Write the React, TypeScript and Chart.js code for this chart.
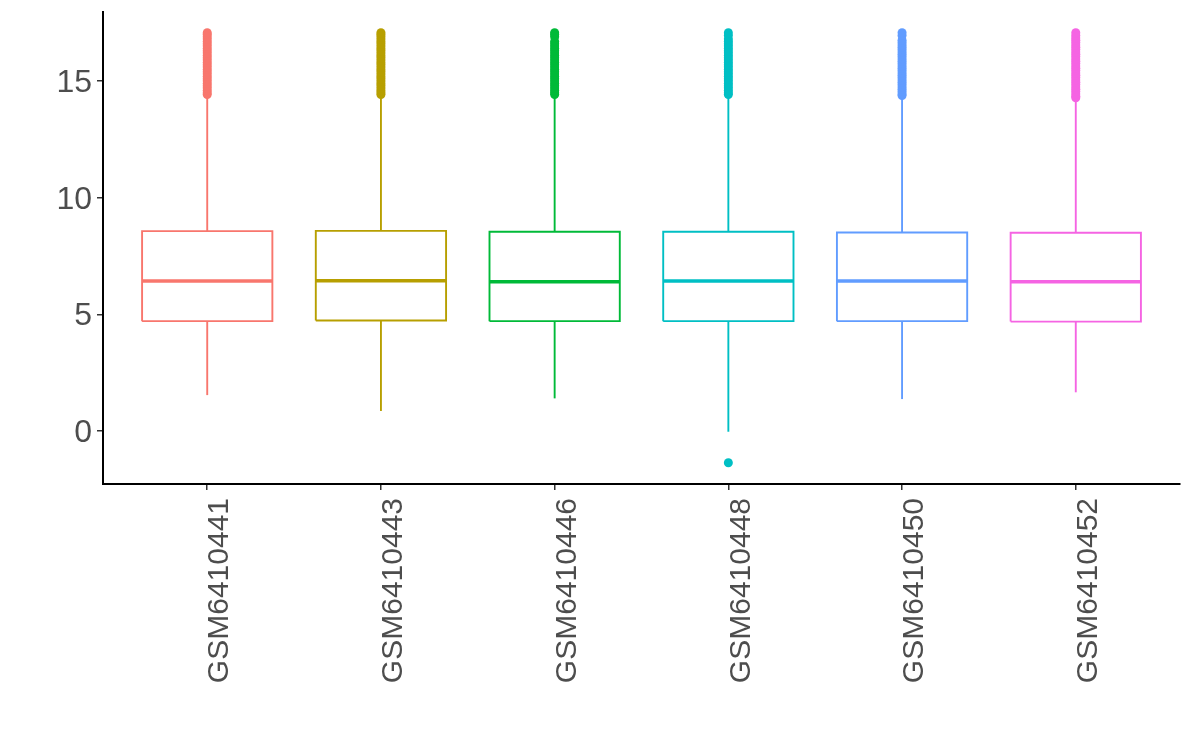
import React, { useEffect, useRef } from "react";
import { Chart, registerables } from "chart.js";

Chart.register(...registerables);

const categories = ["GSM6410441", "GSM6410443", "GSM6410446", "GSM6410448", "GSM6410450", "GSM6410452"];
const colors = ["#F8766D", "#B79F00", "#00BA38", "#00BFC4", "#619CFF", "#F564E3"];

const lowerWhisker = [1.54, 0.86, 1.40, -0.03, 1.37, 1.66];
const q1 = [4.71, 4.74, 4.71, 4.71, 4.71, 4.69];
const median = [6.43, 6.44, 6.40, 6.43, 6.43, 6.40];
const q3 = [8.57, 8.58, 8.54, 8.54, 8.51, 8.50];
const upperWhisker = [14.37, 14.37, 14.37, 14.37, 14.33, 14.23];

const outliers1 = [14.42, 14.5, 14.6, 14.7, 14.8, 14.9, 15.0, 15.1, 15.2, 15.3, 15.4, 15.5, 15.6, 15.7, 15.8, 15.9, 16.0, 16.1, 16.2, 16.3, 16.4, 16.5, 16.6, 16.7, 16.8, 16.9, 17.0, 17.07];
const outliers2 = [14.42, 14.5, 14.6, 14.7, 14.8, 14.9, 15.0, 15.1, 15.2, 15.3, 15.4, 15.5, 15.6, 15.7, 15.8, 15.9, 16.0, 16.1, 16.2, 16.3, 16.4, 16.5, 16.6, 16.7, 16.8, 16.9, 17.0, 17.07];
const outliers3 = [14.42, 14.5, 14.6, 14.7, 14.8, 14.9, 15.0, 15.1, 15.2, 15.3, 15.4, 15.5, 15.6, 15.7, 15.8, 15.9, 16.0, 16.1, 16.2, 16.3, 16.4, 16.5, 16.6, 16.7, 16.9, 17.0, 17.07];
const outliers4 = [-1.36, 14.42, 14.5, 14.6, 14.7, 14.8, 14.9, 15.0, 15.1, 15.2, 15.3, 15.4, 15.5, 15.6, 15.7, 15.8, 15.9, 16.0, 16.1, 16.2, 16.3, 16.4, 16.5, 16.6, 16.7, 16.8, 16.95, 17.07];
const outliers5 = [14.38, 14.45, 14.55, 14.65, 14.75, 14.85, 14.95, 15.05, 15.15, 15.25, 15.35, 15.45, 15.55, 15.65, 15.75, 15.85, 15.95, 16.05, 16.15, 16.25, 16.35, 16.45, 16.55, 16.65, 16.75, 16.95, 17.07];
const outliers6 = [14.28, 14.35, 14.45, 14.55, 14.65, 14.75, 14.85, 14.95, 15.05, 15.15, 15.25, 15.35, 15.45, 15.55, 15.65, 15.75, 15.85, 15.95, 16.05, 16.15, 16.25, 16.35, 16.45, 16.55, 16.65, 16.75, 16.85, 16.95, 17.07];
const outliers = [outliers1, outliers2, outliers3, outliers4, outliers5, outliers6];

const yTicks = [0, 5, 10, 15];

const BOX_HALF = 0.375;
const FONT = "'Liberation Sans', Arial, Helvetica, sans-serif";

export default function App() {
  const canvasRef = useRef<HTMLCanvasElement | null>(null);

  useEffect(() => {
    if (!canvasRef.current) return;
    const datasets: any[] = [];
    categories.forEach((_, i) => {
      const x = i + 1;
      const c = colors[i];
      datasets.push({
        type: "scatter",
        data: outliers[i].map((v) => ({ x, y: v })),
        backgroundColor: c,
        borderWidth: 0,
        pointRadius: 4.5,
        pointHoverRadius: 4.5,
        showLine: false,
      });
      const lineBase = {
        type: "line",
        borderColor: c,
        borderWidth: 1.9,
        pointRadius: 0,
        pointHoverRadius: 0,
        fill: false,
        tension: 0,
        borderJoinStyle: "miter",
        borderCapStyle: "butt",
      };
      datasets.push({ ...lineBase, data: [{ x, y: q3[i] }, { x, y: upperWhisker[i] }] });
      datasets.push({ ...lineBase, data: [{ x, y: lowerWhisker[i] }, { x, y: q1[i] }] });
      datasets.push({
        ...lineBase,
        data: [
          { x: x - BOX_HALF, y: q1[i] },
          { x: x - BOX_HALF, y: q3[i] },
          { x: x + BOX_HALF, y: q3[i] },
          { x: x + BOX_HALF, y: q1[i] },
          { x: x - BOX_HALF, y: q1[i] },
        ],
      });
      datasets.push({
        ...lineBase,
        borderWidth: 3.6,
        data: [
          { x: x - BOX_HALF, y: median[i] },
          { x: x + BOX_HALF, y: median[i] },
        ],
      });
    });

    const chart = new Chart(canvasRef.current, {
      type: "scatter",
      data: { datasets },
      options: {
        animation: false,
        responsive: true,
        maintainAspectRatio: false,
        layout: { padding: { top: 12, right: 12, left: 0, bottom: 0 } },
        plugins: { legend: { display: false }, tooltip: { enabled: false } },
        events: [],
        scales: {
          x: {
            type: "linear",
            min: 0.4,
            max: 6.6,
            afterBuildTicks: (scale: any) => {
              scale.ticks = categories.map((_, i) => ({ value: i + 1 }));
            },
            afterFit: (scale: any) => {
              scale.height = 261;
              scale.paddingLeft = 0;
              scale.paddingRight = 0;
            },
            ticks: {
              autoSkip: false,
              minRotation: 90,
              maxRotation: 90,
              padding: 8,
              labelOffset: 13,
              color: "#4D4D4D",
              font: { family: FONT, size: 30 },
              callback: (v: any) => categories[Math.round(Number(v)) - 1] ?? "",
            },
            grid: {
              display: true,
              drawOnChartArea: false,
              drawTicks: true,
              tickLength: 6,
              color: "#333333",
              lineWidth: 1.5,
            },
            border: { display: true, color: "#000000", width: 2 },
          },
          y: {
            type: "linear",
            min: -2.27,
            max: 17.96,
            afterBuildTicks: (scale: any) => {
              scale.ticks = yTicks.map((v) => ({ value: v }));
            },
            afterFit: (scale: any) => {
              scale.width = 103;
              scale.paddingTop = 0;
              scale.paddingBottom = 0;
            },
            ticks: {
              padding: 5,
              labelOffset: 2,
              color: "#4D4D4D",
              font: { family: FONT, size: 32 },
              callback: (v: any) => String(v),
            },
            grid: {
              display: true,
              drawOnChartArea: false,
              drawTicks: true,
              tickLength: 6,
              color: "#333333",
              lineWidth: 1.5,
            },
            border: { display: true, color: "#000000", width: 2 },
          },
        },
      } as any,
    });
    return () => chart.destroy();
  }, []);

  return (
    <div style={{ position: "fixed", left: 0, top: 0, width: 1192, height: 745, background: "#ffffff" }}>
      <canvas ref={canvasRef} />
    </div>
  );
}
